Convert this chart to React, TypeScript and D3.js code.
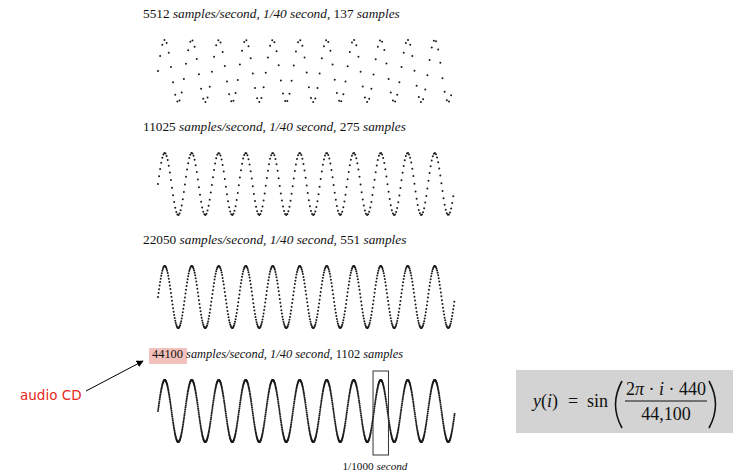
import React, { useEffect, useRef } from "react";
import * as d3 from "d3";

// the four sampled versions of a 440 Hz tone, 1/40 second each
const sampleRates = [5512, 11025, 22050, 44100];
const sampleCounts = [137, 275, 551, 1102];
const frequency = 440;
const duration = 1 / 40;
const rowBaselines = [18, 131, 244, 358];
const labelSizes = [13.3, 13.3, 13.3, 12.4];

// window marked on the last row (seconds)
const boxStart = 0.0181;
const boxEnd = 0.0194;

const App = () => {
  const svgRef = useRef<SVGSVGElement>(null);

  useEffect(() => {
    const svg = d3.select(svgRef.current);
    svg.selectAll("*").remove();

    const xScale = d3.scaleLinear().domain([0, duration]).range([158, 455]);

    sampleRates.forEach((rate, r) => {
      const base = rowBaselines[r];
      const yScale = d3
        .scaleLinear()
        .domain([-1, 1])
        .range([base + 84, base + 22]);

      // highlight behind 44100
      if (r === 3) {
        svg
          .append("rect")
          .attr("x", 149)
          .attr("y", base - 10)
          .attr("width", 38)
          .attr("height", 16)
          .attr("fill", "#f3c1bb");
      }

      const label = svg
        .append("text")
        .attr("x", r === 3 ? 152 : 143)
        .attr("y", base)
        .attr("font-family", "'Liberation Serif', serif")
        .attr("font-size", labelSizes[r])
        .attr("fill", "#111");
      label.append("tspan").text(`${rate} `);
      label
        .append("tspan")
        .attr("font-style", "italic")
        .text("samples/second, 1/40 second, ");
      label.append("tspan").text(`${sampleCounts[r]} `);
      label.append("tspan").attr("font-style", "italic").text("samples");

      const points = d3.range(sampleCounts[r]).map((i) => ({
        t: i / rate,
        v: Math.sin((2 * Math.PI * i * frequency) / rate),
      }));

      svg
        .append("g")
        .selectAll("circle")
        .data(points)
        .join("circle")
        .attr("cx", (d) => xScale(d.t))
        .attr("cy", (d) => yScale(d.v))
        .attr("r", 1)
        .attr("fill", "#1a1a1a");

      if (r === 3) {
        svg
          .append("rect")
          .attr("x", xScale(boxStart))
          .attr("y", base + 13)
          .attr("width", xScale(boxEnd) - xScale(boxStart))
          .attr("height", 84)
          .attr("fill", "none")
          .attr("stroke", "#333")
          .attr("stroke-width", 1);

        const note = svg
          .append("text")
          .attr("x", 375)
          .attr("y", 470)
          .attr("text-anchor", "middle")
          .attr("font-family", "'Liberation Serif', serif")
          .attr("font-size", 11.2)
          .attr("fill", "#111");
        note.append("tspan").text("1/1000 ");
        note.append("tspan").attr("font-style", "italic").text("second");
      }
    });

    // audio CD callout
    const defs = svg.append("defs");
    defs
      .append("marker")
      .attr("id", "arrow")
      .attr("viewBox", "0 0 10 10")
      .attr("refX", 9)
      .attr("refY", 5)
      .attr("markerWidth", 7)
      .attr("markerHeight", 7)
      .attr("orient", "auto")
      .append("path")
      .attr("d", "M0,0L10,5L0,10z")
      .attr("fill", "#000");

    svg
      .append("line")
      .attr("x1", 86)
      .attr("y1", 391)
      .attr("x2", 143)
      .attr("y2", 361)
      .attr("stroke", "#000")
      .attr("stroke-width", 1)
      .attr("marker-end", "url(#arrow)");

    svg
      .append("text")
      .attr("x", 20)
      .attr("y", 400)
      .attr("font-family", "'DejaVu Sans', sans-serif")
      .attr("font-size", 13.5)
      .attr("fill", "#e8271b")
      .text("audio CD");

    // formula box
    svg
      .append("rect")
      .attr("x", 516)
      .attr("y", 370)
      .attr("width", 217)
      .attr("height", 63)
      .attr("fill", "#d3d3d3");

    const f = svg
      .append("g")
      .attr("font-family", "'Liberation Serif', serif")
      .attr("fill", "#111");

    const yi = f.append("text").attr("x", 533).attr("y", 407).attr("font-size", 18);
    yi.append("tspan").attr("font-style", "italic").text("y");
    yi.append("tspan").text("(");
    yi.append("tspan").attr("font-style", "italic").text("i");
    yi.append("tspan").text(")");

    f.append("text").attr("x", 568).attr("y", 407).attr("font-size", 18).text("=");
    f.append("text").attr("x", 587).attr("y", 407).attr("font-size", 18).text("sin");

    // big parentheses
    f.append("path")
      .attr("d", "M622,381Q609,404.5 622,428")
      .attr("fill", "none")
      .attr("stroke", "#111")
      .attr("stroke-width", 1.6);
    f.append("path")
      .attr("d", "M709,381Q722,404.5 709,428")
      .attr("fill", "none")
      .attr("stroke", "#111")
      .attr("stroke-width", 1.6);

    const num = f
      .append("text")
      .attr("x", 666)
      .attr("y", 395)
      .attr("text-anchor", "middle")
      .attr("font-size", 18);
    num.append("tspan").text("2");
    num.append("tspan").attr("font-style", "italic").text("π");
    num.append("tspan").text(" · ");
    num.append("tspan").attr("font-style", "italic").text("i");
    num.append("tspan").text(" · 440");

    f.append("line")
      .attr("x1", 625)
      .attr("x2", 707)
      .attr("y1", 401)
      .attr("y2", 401)
      .attr("stroke", "#111")
      .attr("stroke-width", 1);

    f.append("text")
      .attr("x", 666)
      .attr("y", 420)
      .attr("text-anchor", "middle")
      .attr("font-size", 18)
      .text("44,100");
  }, []);

  return (
    <svg
      ref={svgRef}
      width={735}
      height={476}
      style={{ position: "absolute", left: 0, top: 0, background: "#fff" }}
    ></svg>
  );
};

export default App;
